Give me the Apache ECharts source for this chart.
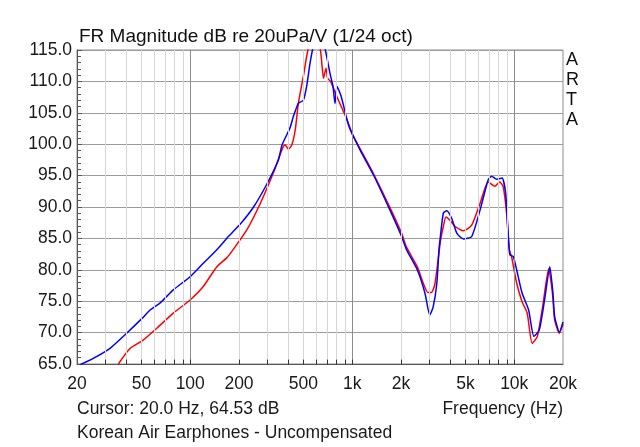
<!DOCTYPE html>
<html>
<head>
<meta charset="utf-8">
<script src="https://cdn.jsdelivr.net/npm/echarts@6/dist/echarts.min.js"></script>
<style>
html,body{margin:0;padding:0;background:#fff;}
#chart{width:640px;height:447px;}
</style>
</head>
<body>
<div id="chart"></div>
<script>
// Frequency (Hz) and magnitude (dB)
const redFreq = [36, 42.6, 51.2, 62.2, 78.6, 99.8, 120, 146, 168, 185, 223, 271, 328, 368, 385, 404, 424, 445, 465, 499, 535, 580, 634, 665, 689, 705, 735, 803, 929, 1010, 1117, 1353, 1710, 2018, 2163, 2520, 2740, 2930, 3080, 3230, 3390, 3500, 3650, 3790, 4010, 4320, 4860, 5460, 6160, 6900, 7580, 8130, 8550, 8970, 9320, 9630, 10350, 11180, 12020, 12900, 13890, 14970, 16340, 16900, 17330, 17770, 19000, 20000];
const redDb   = [65.0, 67.5, 68.8, 70.7, 73.1, 75.2, 77.3, 80.5, 81.9, 83.3, 86.3, 90.6, 95.6, 99.1, 99.9, 99.2, 99.9, 102.3, 106.5, 110.8, 115.2, 117.0, 115.2, 110.5, 112.1, 110.5, 110.0, 107.6, 103.9, 101.4, 99.3, 95.3, 89.9, 85.8, 83.6, 80.5, 77.9, 76.4, 76.4, 77.6, 81.6, 84.5, 86.9, 88.4, 87.9, 86.9, 86.2, 87.1, 90.6, 94.0, 93.3, 94.0, 93.2, 89.0, 83.2, 82.1, 77.9, 74.9, 73.1, 68.3, 69.4, 74.1, 80.2, 78.0, 75.5, 72.0, 69.9, 71.4];

const blueFreq = [20.9, 25.2, 32, 40.5, 50.6, 56.5, 65.0, 78.6, 99.8, 120, 129, 146, 172, 207, 246, 295, 350, 369, 413, 433, 465, 499, 523, 549, 570, 600, 650, 680, 733, 761, 783, 806, 855, 955, 1117, 1353, 1710, 2018, 2163, 2520, 2810, 3010, 3160, 3330, 3430, 3480, 3650, 3830, 4110, 4430, 4860, 5460, 6150, 6900, 7250, 7800, 8410, 8850, 9150, 9400, 9870, 10350, 11180, 12270, 13230, 14270, 15390, 16580, 17330, 17770, 19000, 20000];
const blueDb   = [64.9, 65.9, 67.5, 69.9, 72.3, 73.6, 74.7, 76.8, 78.9, 81.0, 81.8, 83.2, 85.3, 87.5, 90.0, 93.5, 97.5, 99.9, 102.6, 104.4, 106.5, 107.0, 109.2, 112.9, 115.2, 118.0, 117.0, 115.2, 111.0, 109.2, 106.5, 109.2, 107.6, 102.8, 99.1, 95.1, 89.5, 85.3, 83.2, 80.0, 76.3, 72.8, 74.1, 77.9, 83.2, 84.7, 89.0, 89.4, 88.2, 85.8, 84.9, 85.3, 89.5, 94.3, 94.9, 94.4, 94.6, 92.2, 86.3, 82.4, 82.1, 80.0, 76.3, 73.6, 69.4, 70.4, 75.2, 80.5, 76.3, 72.5, 70.1, 71.7];

// Axis ticks / grid lines
const xLabelValues = [20, 50, 100, 200, 500, 1000, 2000, 5000, 10000, 20000];
const xLabelText   = ['20', '50', '100', '200', '500', '1k', '2k', '5k', '10k', '20k'];
const xGridValues  = [30, 40, 50, 60, 70, 80, 90, 100, 200, 300, 400, 500, 600, 700, 800, 900, 1000, 2000, 3000, 4000, 5000, 6000, 7000, 8000, 9000, 10000];
const xDecadeValues = [100, 1000, 10000];
const yMin = 65, yMax = 115, yStep = 5;

const FONT = 'Liberation Sans, Arial, sans-serif';

function pair(a, b) { return a.map((v, i) => [v, b[i]]); }

const gridLines = xGridValues.map(v => ({
  xAxis: v,
  lineStyle: { color: xDecadeValues.includes(v) ? '#8c8c8c' : '#d6d6d6', width: 1, type: 'solid' }
}));
const labelLines = xLabelValues.map((v, i) => ({
  xAxis: v,
  label: { show: true, formatter: xLabelText[i] }
}));
const tickMarks = xGridValues.map(v => [
  { coord: [v, yMin] }, { coord: [v, yMin + 0.7] }
]);

const chart = echarts.init(document.getElementById('chart'), null, { renderer: 'canvas' });
chart.setOption({
  animation: false,
  backgroundColor: '#ffffff',
  textStyle: { fontFamily: FONT },
  grid: { left: 77, right: 77, top: 50, bottom: 83, show: true, borderColor: '#8c8c8c', borderWidth: 1, containLabel: false },
  xAxis: {
    type: 'log', logBase: 10, min: 20, max: 20000,
    axisLine: { show: true, lineStyle: { color: '#555' } },
    axisTick: { show: false }, axisLabel: { show: false },
    splitLine: { show: false }, minorSplitLine: { show: false }
  },
  yAxis: {
    type: 'value', min: yMin, max: yMax, interval: yStep,
    axisLine: { show: true, lineStyle: { color: '#555' } },
    axisTick: { show: true, inside: true, length: 5, lineStyle: { color: '#555' } },
    minorTick: { show: true, splitNumber: 5, length: 4, lineStyle: { color: '#555' } },
    axisLabel: { formatter: v => v.toFixed(1), fontSize: 17.5, color: '#1a1a1a', margin: 5, fontFamily: FONT },
    splitLine: { show: true, lineStyle: { color: '#9c9c9c', width: 1 } }
  },
  title: {
    text: 'FR Magnitude dB re 20uPa/V (1/24 oct)',
    left: 74, top: 22,
    textStyle: { fontSize: 19, fontWeight: 'normal', color: '#111', fontFamily: FONT }
  },
  graphic: [
    { type: 'text', left: 566, top: 50, style: { text: 'A\nR\nT\nA', fontSize: 18, lineHeight: 20, fill: '#111', fontFamily: FONT } },
    { type: 'text', left: 77, top: 400, style: { text: 'Cursor: 20.0 Hz, 64.53 dB', fontSize: 17.5, fill: '#1a1a1a', fontFamily: FONT } },
    { type: 'text', right: 77, top: 400, style: { text: 'Frequency (Hz)', fontSize: 17.5, fill: '#1a1a1a', fontFamily: FONT } },
    { type: 'text', left: 77, top: 424, style: { text: 'Korean Air Earphones - Uncompensated', fontSize: 17.5, fill: '#1a1a1a', fontFamily: FONT } }
  ],
  series: [
    {
      type: 'line', data: [], z: 1, silent: true,
      markLine: {
        silent: true, symbol: 'none', animation: false,
        label: { show: false },
        data: gridLines
      }
    },
    {
      type: 'line', data: [], z: 1, silent: true,
      markLine: {
        silent: true, symbol: 'none', animation: false,
        lineStyle: { color: 'rgba(0,0,0,0)', width: 0, type: 'solid' },
        label: { show: true, position: 'start', distance: 11, fontSize: 17.5, color: '#1a1a1a', fontFamily: FONT },
        data: labelLines
      }
    },
    {
      type: 'line', data: [], z: 1, silent: true,
      markLine: {
        silent: true, symbol: 'none', animation: false,
        label: { show: false },
        lineStyle: { color: '#333', width: 1, type: 'solid' },
        data: tickMarks
      }
    },
    {
      name: 'red', type: 'line', data: pair(redFreq, redDb), z: 2,
      showSymbol: false, symbol: 'none', smooth: 0.2, clip: true,
      lineStyle: { color: '#ff0000', width: 1.5 }
    },
    {
      name: 'blue', type: 'line', data: pair(blueFreq, blueDb), z: 3,
      showSymbol: false, symbol: 'none', smooth: 0.2, clip: true,
      lineStyle: { color: '#0000ff', width: 1.5 }
    }
  ]
});
</script>
</body>
</html>
